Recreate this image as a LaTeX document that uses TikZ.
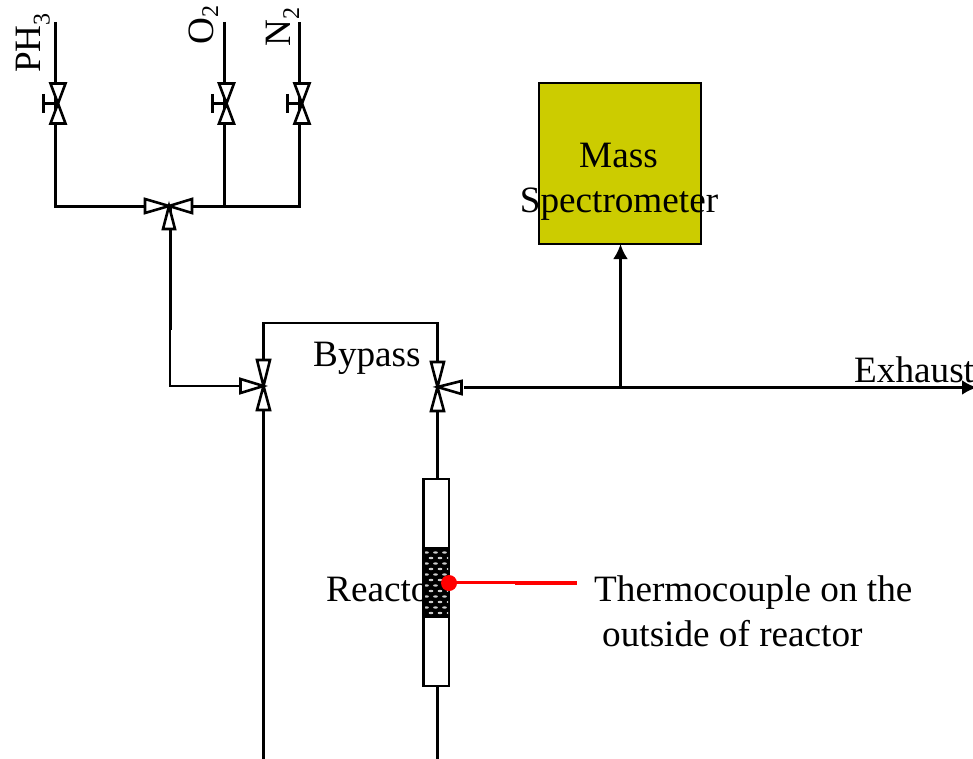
\documentclass[tikz,border=0pt]{standalone}
\usepackage{fontspec}
\setmainfont{Liberation Serif}
\usetikzlibrary{arrows.meta,calc}
\newcommand{\lbl}{\fontsize{37.2}{37.2}\selectfont}
\newcommand{\subs}[2]{\raisebox{#1}{\fontsize{24}{24}\selectfont #2}}
% triangle of a valve: apex, then the two corners of its base
\newcommand{\vtri}[3]{\draw[valvetri] (#1) -- (#2) -- (#3) -- cycle;}
\tikzset{
  pipe/.style={line width=3pt,line cap=butt,black},
  thinpipe/.style={line width=2.2pt,black},
  valvetri/.style={draw=black,fill=white,line width=2.6pt,line join=miter},
  lab/.style={font=\lbl,inner sep=0pt,anchor=base west,text=black},
  tip/.style={-{Latex[length=15pt,width=15pt]}},
}
\begin{document}
\begin{tikzpicture}[x=1pt,y=-1pt]
\useasboundingbox[fill=white] (0,0) rectangle (973,759);
\clip (0,0) rectangle (973,759);
% named points
\coordinate (phTop) at (55.5,22);
\coordinate (oTop) at (224,22);
\coordinate (nTop) at (299.5,22);
\coordinate (phJ) at (55.5,207);
\coordinate (oJ) at (224,207);
\coordinate (nJ) at (299.5,207);
\coordinate (vPH) at (58,103.5);
\coordinate (vO) at (226.5,103.5);
\coordinate (vN) at (302,103.5);
\coordinate (vMix) at (169,206);
\coordinate (vL) at (263.5,386);
\coordinate (vR) at (437.5,387);
\coordinate (teeA) at (170,330);
\coordinate (bendA) at (170,386);
\coordinate (bpL) at (263.5,323);
\coordinate (bpR) at (437.5,323);
\coordinate (botL) at (263.5,759);
\coordinate (botR) at (437.5,759);
\coordinate (exOut) at (977,387.5);
\coordinate (exStart) at (464,387.5);
\coordinate (msTee) at (620.5,387.5);
\coordinate (tcMid) at (515,582);
\coordinate (tcEnd) at (577,583);
% boxes
\node[draw=black,fill={rgb,255:red,204;green,204;blue,0},line width=2.4pt,outer sep=0pt,minimum width=162pt,minimum height=161pt,inner sep=0pt,anchor=north west] (ms) at (539,83) {};
\node[draw=black,fill=white,line width=2.4pt,outer sep=0pt,minimum width=25.5pt,minimum height=207pt,inner sep=0pt,anchor=north west] (reactor) at (423.5,479) {};
% pipes
\draw[pipe] (phTop) -- (phJ) -- (nJ) -- (nTop);
\draw[pipe] (oTop) -- (oJ);
\draw[pipe] (teeA |- vMix) -- (teeA);
\draw[thinpipe] (teeA) -- (bendA) -- (vL);
\draw[thinpipe] (vL) -- (bpL) -- (bpR) -- (vR);
\draw[pipe] (vL) -- (botL);
\draw[pipe] (vR) -- (vR |- reactor.north);
\draw[pipe] (botR |- reactor.south) -- (botR);
\draw[pipe,tip] (exStart) -- (exOut);
\draw[pipe,tip] (msTee) -- (msTee |- ms.south);
% labels beneath the catalyst bed
\node[lab] (lreactor) at (326,601) {Reactor};
% catalyst bed
\node[draw=black,fill=black,line width=2pt,outer sep=0pt,minimum width=25.5pt,minimum height=69pt,inner sep=0pt,anchor=north west] (bed) at (423.5,548) {};
\begin{scope}
\clip (425,549.5) rectangle (448,616);
\foreach \r in {0,...,12}{
  \pgfmathsetmacro{\yy}{552.5+5.5*\r}
  \pgfmathsetmacro{\xx}{mod(\r,2)==0 ? 426.5 : 422}
  \foreach \k in {0,1,2,3}{
    \fill[white!80!black] ({\xx+9*\k},\yy) ellipse (2.4pt and 1.2pt);
  }
}
\end{scope}
% valves with handles
\foreach \v in {vPH,vO,vN}{
  \vtri{\v}{$(\v)+(-7.5,-20)$}{$(\v)+(7.5,-20)$}
  \vtri{\v}{$(\v)+(-7.5,20)$}{$(\v)+(7.5,20)$}
  \draw[pipe] ($(\v)+(-14.5,-9.5)$) -- ($(\v)+(-14.5,9.5)$);
  \draw[pipe] ($(\v)+(-14.5,0)$) -- (\v);
}
% mixing valve
\vtri{vMix}{$(vMix)+(-24,-7)$}{$(vMix)+(-24,7)$}
\vtri{vMix}{$(vMix)+(23,-7)$}{$(vMix)+(23,7)$}
\vtri{vMix}{$(vMix)+(-6,23)$}{$(vMix)+(6,23)$}
% bypass valves
\vtri{vL}{$(vL)+(-6.5,-26)$}{$(vL)+(6.5,-26)$}
\vtri{vL}{$(vL)+(-6.5,24)$}{$(vL)+(6.5,24)$}
\vtri{vL}{$(vL)+(-23,-7)$}{$(vL)+(-23,7)$}
\vtri{vR}{$(vR)+(-6.5,-25)$}{$(vR)+(6.5,-25)$}
\vtri{vR}{$(vR)+(-6.5,24)$}{$(vR)+(6.5,24)$}
\vtri{vR}{$(vR)+(24,-6)$}{$(vR)+(24,7)$}
% thermocouple
\draw[red,line width=3pt] (bed.east |- tcMid) -- (tcMid);
\draw[red,line width=4pt] (tcMid |- tcEnd) -- (tcEnd);
\node[circle,fill=red,minimum size=16pt,inner sep=0pt] (tcDot) at (449,583) {};
% text
\node[lab,anchor=base] (lmass) at (618.5,168) {Mass};
\node[lab,anchor=base] (lspec) at (619,213) {Spectrometer};
\node[lab] (lby) at (313,366) {Bypass};
\node[lab] (lex) at (854,382) {Exhaust};
\node[lab] (lth1) at (594,601) {Thermocouple on the};
\node[lab] (lth2) at (602,646) {outside of reactor};
\node[lab,rotate=90] (lph) at (40.5,73) {PH\subs{-9pt}{3}};
\node[lab,rotate=90] (lo) at (213,45) {O\subs{-5pt}{2}};
\node[lab,rotate=90] (ln) at (290,46.5) {N\subs{-9pt}{2}};
\end{tikzpicture}
\end{document}
